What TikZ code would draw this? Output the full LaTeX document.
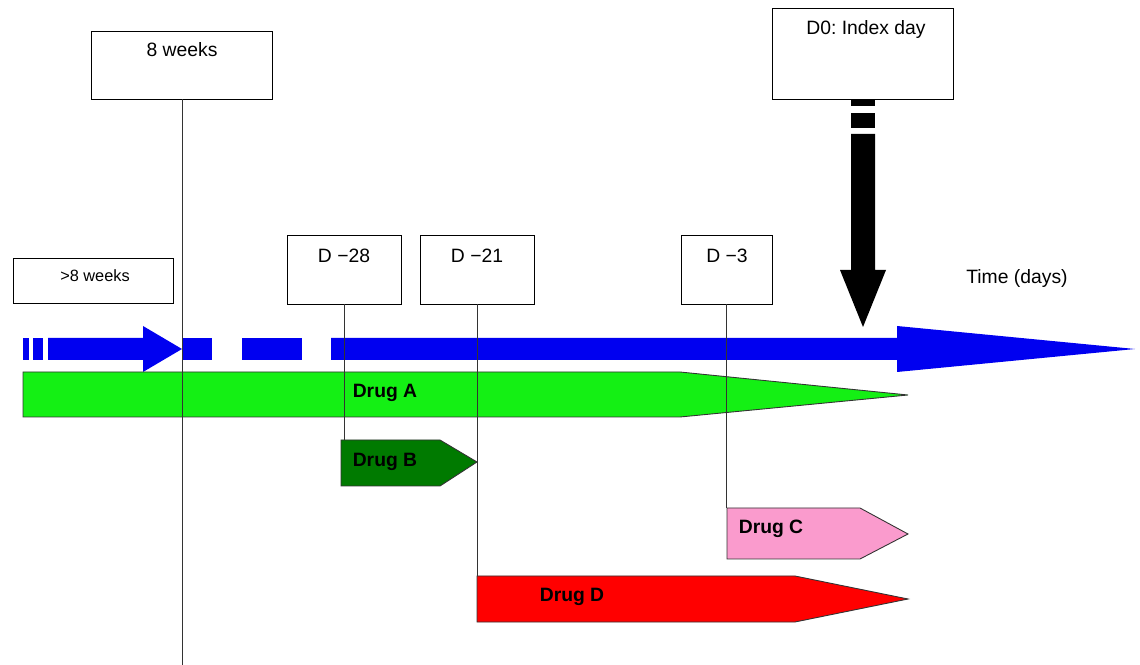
\documentclass[tikz,border=0pt]{standalone}
\usepackage{fontspec}
\setmainfont{Liberation Sans}
\begin{document}
\begin{tikzpicture}[x=0.02cm,y=-0.02cm,
  daybox/.style={draw, line width=0.5pt, inner sep=0pt},
  daytext/.style={anchor=base, inner sep=0pt, font=\fontsize{11}{13}\selectfont},
  druglabel/.style={anchor=base, inner sep=0pt, font=\fontsize{11}{13}\selectfont\bfseries},
  drugbar/.style={draw=black!80, line width=0.5pt},
  tickline/.style={draw=black!80, line width=0.5pt}]
\pgfmathsetlengthmacro\pxlen{0.02cm}
\useasboundingbox (0,0) rectangle (1140,665);
\definecolor{timeblue}{RGB}{0,0,240}
% boxes
\node[daybox, minimum width=181*\pxlen, minimum height=68*\pxlen] (w8) at (182,65) {};
\node[daybox, minimum width=160*\pxlen, minimum height=45*\pxlen] (gt8) at (93,280.5) {};
\node[daybox, minimum width=181*\pxlen, minimum height=91*\pxlen] (d0) at (863,53.5) {};
\node[daybox, minimum width=114*\pxlen, minimum height=69*\pxlen] (d28) at (344,269.5) {};
\node[daybox, minimum width=114*\pxlen, minimum height=69*\pxlen] (d21) at (477,269.5) {};
\node[daybox, minimum width=91*\pxlen, minimum height=69*\pxlen] (d3) at (726.5,269.5) {};
% time axis
\foreach \a/\b in {23/29,33/43,182/212,242/302} \fill[timeblue] (\a,338) rectangle (\b,360);
\fill[timeblue] (48,338) -- (143,338) -- (143,326) -- (182,349) -- (143,372) -- (143,360) -- (48,360) -- cycle;
\fill[timeblue] (331,338) -- (897,338) -- (897,326) -- (1135,349) -- (897,372) -- (897,360) -- (331,360) -- cycle;
% drugs
\coordinate (barA) at (23,372);
\coordinate (barB) at (341,440);
\coordinate (barC) at (727,508);
\coordinate (barD) at (477,576);
\definecolor{mycolor}{RGB}{20,240,20}
\draw[drugbar, fill=mycolor] (barA) -- (680,372) -- (908,395) -- (680,417) -- (23,417) -- cycle;
\definecolor{mycolor}{RGB}{0,122,0}
\draw[drugbar, fill=mycolor] (barB) -- (440,440) -- (477,462) -- (440,486) -- (341,486) -- cycle;
\definecolor{mycolor}{RGB}{250,155,205}
\draw[drugbar, fill=mycolor] (barC) -- (860,508) -- (908,534) -- (860,559) -- (727,559) -- cycle;
\definecolor{mycolor}{RGB}{255,0,0}
\draw[drugbar, fill=mycolor] (barD) -- (795,576) -- (908,599) -- (795,622) -- (477,622) -- cycle;
% day lines
\coordinate (bottom) at (182,665);
\draw[tickline] (w8.south) -- (bottom);
\draw[tickline] (d28.south) -- (d28.south |- barB);
\draw[tickline] (d21.south) -- (d21.south |- barD);
\draw[tickline] (d3.south) -- (d3.south |- barC);
% index day arrow
\fill (851,99) rectangle (875,106);
\fill (851,113) rectangle (875,128);
\fill (851,134) -- (875,134) -- (875,270) -- (886,270) -- (863,327) -- (840,270) -- (851,270) -- cycle;
% texts
\node[daytext] (w8t) at (182,57) {8 weeks};
\node[daytext, font=\fontsize{9.3}{11}\selectfont] (gt8t) at (95,282) {>8 weeks};
\node[daytext] (d0t) at (866,35) {D0:\ Index day};
\node[daytext] (d28t) at (344,263) {D −28};
\node[daytext] (d21t) at (477,263) {D −21};
\node[daytext] (d3t) at (727,263) {D −3};
\node[daytext] (time) at (1017,284) {Time (days)};
\node[druglabel] (drugA) at (385,398) {Drug A};
\node[druglabel] (drugB) at (385,467) {Drug B};
\node[druglabel] (drugC) at (771,534) {Drug C};
\node[druglabel] (drugD) at (572,602) {Drug D};
\end{tikzpicture}
\end{document}
